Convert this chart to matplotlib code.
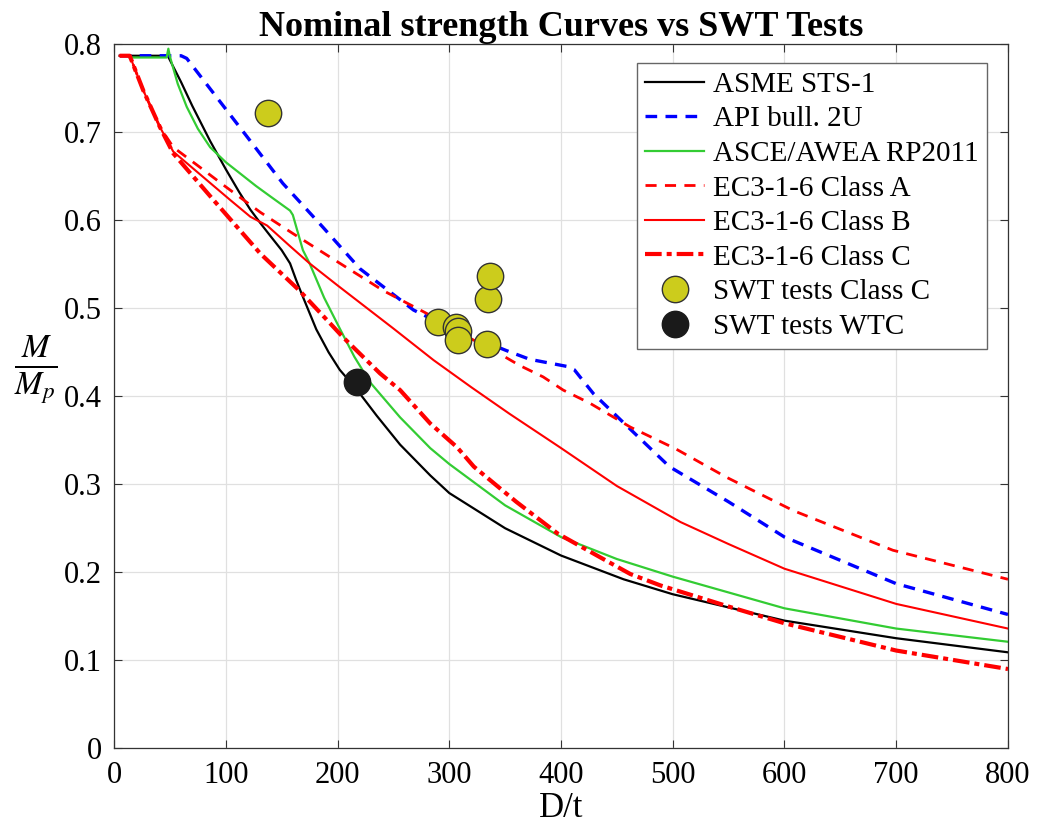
import numpy as np
import matplotlib
matplotlib.use("Agg")
import matplotlib.pyplot as plt

plt.rcParams['font.family'] = ['Liberation Serif', 'DejaVu Serif']
plt.rcParams['mathtext.fontset'] = 'stix'

# values (D/t, M/Mp)
asme_x = [5, 48, 60, 70, 86, 100, 112, 122, 132, 140, 150, 157.5, 163, 169, 181, 192, 202, 217, 235, 256, 283, 300, 350, 400, 456, 500, 600, 700, 800]
asme_y = [0.787, 0.787, 0.757, 0.730, 0.690, 0.658, 0.632, 0.612, 0.595, 0.582, 0.566, 0.551, 0.532, 0.513, 0.476, 0.450, 0.430, 0.408, 0.378, 0.345, 0.310, 0.290, 0.250, 0.219, 0.192, 0.175, 0.145, 0.125, 0.109]

api_x = [5, 60, 65, 119, 151, 187, 220, 268, 300, 351, 372, 405, 412, 417, 429, 460, 497, 550, 600, 700, 800]
api_y = [0.787, 0.787, 0.784, 0.695, 0.642, 0.592, 0.545, 0.498, 0.478, 0.452, 0.442, 0.434, 0.43, 0.422, 0.403, 0.365, 0.32, 0.28, 0.24, 0.187, 0.152]

asce_x = [14, 47, 48.6, 50, 57, 65, 75, 86, 100, 113, 127, 140, 157.5, 160, 169, 175, 188, 202, 215, 229, 256, 283, 300, 350, 400, 450, 500, 600, 700, 800]
asce_y = [0.785, 0.785, 0.795, 0.786, 0.755, 0.729, 0.704, 0.683, 0.666, 0.653, 0.639, 0.627, 0.611, 0.606, 0.566, 0.551, 0.512, 0.477, 0.445, 0.416, 0.376, 0.341, 0.323, 0.276, 0.240, 0.215, 0.195, 0.159, 0.136, 0.121]

ec3a_x = [5, 14, 26, 41, 53, 74, 100, 131, 160, 196, 241, 280, 300, 340, 363, 384, 402, 426, 462, 503, 548, 608, 697, 800]
ec3a_y = [0.787, 0.787, 0.748, 0.706, 0.683, 0.663, 0.638, 0.609, 0.585, 0.556, 0.520, 0.494, 0.478, 0.452, 0.435, 0.422, 0.407, 0.392, 0.365, 0.340, 0.308, 0.27, 0.225, 0.192]

ec3b_x = [5, 14, 26, 41, 53, 104, 122, 137, 158, 175, 200, 250, 286, 320, 354, 399, 450, 507, 550, 600, 700, 800]
ec3b_y = [0.787, 0.787, 0.748, 0.706, 0.678, 0.623, 0.604, 0.594, 0.570, 0.551, 0.526, 0.477, 0.441, 0.41, 0.380, 0.342, 0.298, 0.257, 0.232, 0.204, 0.164, 0.136]

ec3c_x = [5, 14, 26, 41, 53, 89, 131, 166, 205, 238, 256, 283, 307, 322, 360, 397, 435, 462, 489, 550, 600, 700, 800]
ec3c_y = [0.787, 0.787, 0.748, 0.706, 0.676, 0.623, 0.562, 0.520, 0.467, 0.426, 0.407, 0.369, 0.342, 0.320, 0.28, 0.244, 0.217, 0.198, 0.185, 0.161, 0.142, 0.111, 0.090]

swt_c_x = [138, 290, 306, 308, 308, 334, 335, 336]
swt_c_y = [0.722, 0.484, 0.479, 0.474, 0.464, 0.459, 0.511, 0.537]

swt_wtc_x = [217]
swt_wtc_y = [0.416]

fig = plt.figure(figsize=(10.37, 8.36), dpi=100)
ax = fig.add_axes([0.110, 0.105, 0.862, 0.842])

ax.plot(asme_x, asme_y, color='k', lw=1.6, label='ASME STS-1')
ax.plot(api_x, api_y, color='#0000ff', lw=2.4, ls=(0, (3.5, 2.5)), label='API bull. 2U')
ax.plot(asce_x, asce_y, color='#33cc33', lw=1.6, label='ASCE/AWEA RP2011')
ax.plot(ec3a_x, ec3a_y, color='#ff0000', lw=2.0, ls=(0, (4, 3)), label='EC3-1-6 Class A')
ax.plot(ec3b_x, ec3b_y, color='#ff0000', lw=1.5, label='EC3-1-6 Class B')
ax.plot(ec3c_x, ec3c_y, color='#ff0000', lw=3.0, ls=(0, (4, 1.2, 1.2, 1.2)), label='EC3-1-6 Class C')
ax.plot(swt_c_x, swt_c_y, 'o', ms=19, mfc='#cccc1c', mec='#333333', mew=1.0,
        label='SWT tests Class C')
ax.plot(swt_wtc_x, swt_wtc_y, 'o', ms=19, mfc='#1a1a1a', mec='#1a1a1a', mew=1.0,
        label='SWT tests WTC')

ax.set_xlim(0, 800)
ax.set_ylim(0, 0.8)
ax.set_xticks(np.arange(0, 801, 100))
ax.set_yticks(np.arange(0, 0.81, 0.1))
ax.set_yticklabels(['0', '0.1', '0.2', '0.3', '0.4', '0.5', '0.6', '0.7', '0.8'])
ax.grid(True, color='#e0e0e0', lw=0.9)
ax.set_axisbelow(True)
ax.tick_params(direction='in', top=True, right=True, labelsize=22, length=6,
               color='#333333', pad=9)
for s in ax.spines.values():
    s.set_color('#333333')
    s.set_linewidth(0.9)

ax.set_title('Nominal strength Curves vs SWT Tests', fontsize=26, fontweight='bold', pad=6)
ax.set_xlabel('D/t', fontsize=25, labelpad=2)
ax.set_ylabel(r'$\frac{M}{M_p}$', fontsize=34, rotation=0, labelpad=22)
ax.yaxis.set_label_coords(-0.088, 0.485)

leg = ax.legend(loc='upper right', bbox_to_anchor=(0.9765, 0.974), borderaxespad=0,
                fontsize=21, handlelength=2.0, handletextpad=0.3, labelspacing=0.28,
                borderpad=0.3, fancybox=False, edgecolor='#666666', framealpha=1)
leg.get_frame().set_linewidth(1.0)

fig.savefig('out.png', dpi=100)
